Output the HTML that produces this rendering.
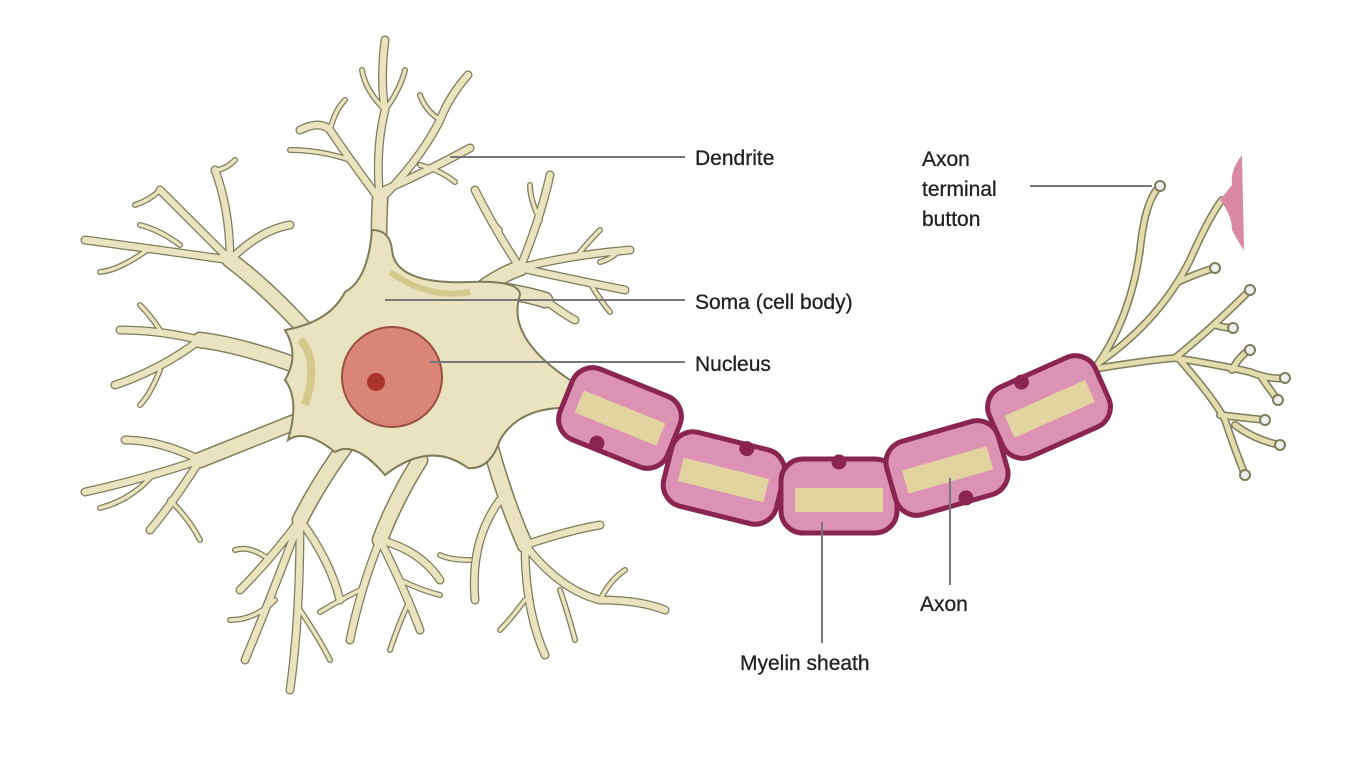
<!DOCTYPE html>
<html><head><meta charset="utf-8"><style>
html,body{margin:0;padding:0;background:#fff;}
svg{display:block;}
text{font-family:"Liberation Sans",Arial,sans-serif;font-size:21px;fill:#222;stroke:#222;stroke-width:0.3px;}
</style></head><body>
<svg width="1360" height="765" viewBox="0 0 1360 765" xmlns="http://www.w3.org/2000/svg">
<defs>
<g id="d1" fill="none" stroke-linecap="round" stroke-linejoin="round">
<path d="M380,290 Q378,240 380,200"/>
<path d="M310,335 Q270,290 230,260"/>
<path d="M295,365 Q240,345 200,340"/>
<path d="M300,420 Q250,440 200,460"/>
<path d="M350,440 Q320,480 300,520"/>
<path d="M420,460 Q395,500 380,540"/>
<path d="M490,445 Q505,500 525,545"/>
<path d="M480,290 Q500,275 520,268"/>
<path d="M500,290 Q530,295 545,300"/>
</g>
<g id="d2" fill="none" stroke-linecap="round" stroke-linejoin="round">
<path d="M380,200 Q375,150 385,110 Q380,80 385,40"/>
<path d="M380,200 Q350,160 330,130 Q320,120 300,130"/>
<path d="M380,200 Q420,160 440,120 Q450,95 468,75"/>
<path d="M385,190 Q430,170 470,148"/>
<path d="M230,260 Q190,220 160,190"/>
<path d="M230,260 Q230,210 215,170"/>
<path d="M230,260 Q260,230 290,225"/>
<path d="M230,260 Q160,250 85,240"/>
<path d="M200,340 Q160,330 120,330"/>
<path d="M200,340 Q160,370 115,385"/>
<path d="M200,460 Q140,480 85,492"/>
<path d="M200,460 Q160,440 125,440"/>
<path d="M200,460 Q175,500 150,530"/>
<path d="M300,520 Q270,560 240,590"/>
<path d="M300,520 Q270,600 245,660"/>
<path d="M300,520 Q300,620 290,690"/>
<path d="M300,520 Q330,560 340,600"/>
<path d="M380,540 Q360,590 350,640"/>
<path d="M380,540 Q405,590 420,630"/>
<path d="M380,540 Q420,550 440,580"/>
<path d="M525,545 Q560,590 600,600 Q640,600 665,610"/>
<path d="M525,545 Q570,530 600,525"/>
<path d="M525,545 Q525,610 545,655"/>
<path d="M500,500 Q470,540 475,600"/>
<path d="M520,268 Q540,220 550,175"/>
<path d="M520,268 Q495,230 475,190"/>
<path d="M520,268 Q570,255 630,250"/>
<path d="M520,268 Q575,280 625,290"/>
<path d="M545,300 Q565,315 575,320"/>
</g>
<g id="d3" fill="none" stroke-linecap="round" stroke-linejoin="round">
<path d="M385,110 Q365,90 362,70"/><path d="M385,110 Q400,90 405,70"/>
<path d="M440,120 Q425,110 420,95"/><path d="M330,130 Q335,110 345,100"/>
<path d="M350,160 Q320,150 290,150"/><path d="M420,165 Q440,170 455,182"/>
<path d="M160,190 Q150,200 135,205"/><path d="M215,170 Q225,170 235,160"/>
<path d="M180,245 Q160,230 140,225"/><path d="M150,248 Q120,270 100,272"/>
<path d="M160,330 Q150,315 140,305"/><path d="M160,370 Q150,395 140,405"/>
<path d="M150,478 Q130,500 100,508"/><path d="M170,500 Q190,520 200,540"/>
<path d="M270,560 Q250,545 235,550"/><path d="M275,600 Q255,620 230,620"/>
<path d="M300,610 Q320,640 330,660"/><path d="M360,590 Q340,600 320,612"/>
<path d="M400,580 Q420,590 440,595"/><path d="M410,600 Q400,620 390,650"/>
<path d="M560,590 Q570,620 575,640"/><path d="M600,600 Q610,580 625,570"/>
<path d="M525,600 Q510,620 500,630"/><path d="M470,560 Q450,560 440,555"/>
<path d="M540,220 Q530,200 530,185"/><path d="M500,230 Q490,220 485,210"/>
<path d="M575,258 Q590,240 600,230"/><path d="M590,283 Q600,300 610,312"/>
<path d="M620,250 Q610,260 600,262"/>
</g>
<g id="ax" fill="none" stroke-linecap="round" stroke-linejoin="round">
<path d="M1095,368 Q1130,320 1140,250 Q1145,200 1160,186"/>
<path d="M1100,362 Q1160,320 1190,260 Q1210,215 1222,200"/>
<path d="M1178,282 Q1200,272 1215,268"/>
<path d="M1100,368 Q1150,360 1175,358 Q1210,330 1250,290"/>
<path d="M1215,325 Q1225,328 1233,328"/>
<path d="M1175,358 Q1220,365 1250,372 Q1270,380 1285,378"/>
<path d="M1232,370 Q1240,355 1250,350"/>
<path d="M1262,378 Q1270,390 1278,400"/>
<path d="M1180,360 Q1215,400 1225,420 Q1235,450 1245,475"/>
<path d="M1220,415 Q1245,418 1265,420"/>
<path d="M1235,425 Q1255,440 1280,445"/>
</g>
</defs>
<use href="#d1" stroke="#7d7d5a" stroke-width="17"/>
<use href="#d2" stroke="#7d7d5a" stroke-width="9"/>
<use href="#d3" stroke="#7d7d5a" stroke-width="6"/>
<use href="#d1" stroke="#e9e3bf" stroke-width="14"/>
<use href="#d2" stroke="#e9e3bf" stroke-width="6.5"/>
<use href="#d3" stroke="#e9e3bf" stroke-width="3.5"/>
<path d="M372,230 Q390,230 392,250 Q395,285 470,282 Q520,280 520,295 Q505,340 578,385 L575,408 Q520,405 500,440 Q490,470 468,468 Q430,440 385,475 Q355,440 335,452 Q305,428 288,440 Q300,400 285,380 Q300,355 285,330 Q330,322 345,292 Q368,280 372,230 Z" fill="#e9e3bf" stroke="#7d7d5a" stroke-width="2"/>
<path d="M300,340 Q320,360 305,405" stroke="#d3c98f" stroke-width="8" fill="none"/>
<path d="M390,272 Q430,300 470,292" stroke="#d3c98f" stroke-width="6" fill="none"/>
<circle cx="392" cy="377" r="50" fill="#d98676" stroke="#9a4f40" stroke-width="2"/>
<circle cx="376" cy="382" r="9" fill="#a8342c"/>
<path d="M570,395 Q700,460 830,495 Q960,480 1100,365" fill="none" stroke="#7d7d5a" stroke-width="12"/>
<path d="M570,395 Q700,460 830,495 Q960,480 1100,365" fill="none" stroke="#e3dcae" stroke-width="9"/>
<use href="#ax" stroke="#7d7d5a" stroke-width="8"/>
<use href="#ax" stroke="#e3dcae" stroke-width="5"/>
<g fill="#eee" stroke="#7d7d5a" stroke-width="2">
<circle cx="1160" cy="186" r="5"/><circle cx="1215" cy="268" r="5"/><circle cx="1250" cy="290" r="5"/>
<circle cx="1233" cy="328" r="5"/><circle cx="1250" cy="350" r="5"/><circle cx="1285" cy="378" r="5"/>
<circle cx="1278" cy="400" r="5"/><circle cx="1265" cy="420" r="5"/><circle cx="1280" cy="445" r="5"/><circle cx="1245" cy="475" r="5"/>
</g>
<path d="M1242,155 Q1230,170 1232,185 L1220,200 Q1232,215 1232,230 Q1240,245 1244,250 Z" fill="#d98aa2"/>
<g stroke="#8a2550" stroke-width="5" fill="#dc93b3">
<g transform="translate(620,418) rotate(22)"><rect x="-58" y="-38" width="116" height="76" rx="22"/><rect x="-44" y="-12" width="88" height="24" fill="#e3d3a0" stroke="none"/><circle cx="-12" cy="32" r="5" fill="#8a2550"/></g>
<g transform="translate(724,478) rotate(14)"><rect x="-58" y="-38" width="116" height="76" rx="22"/><rect x="-44" y="-10" width="88" height="24" fill="#e3d3a0" stroke="none"/><circle cx="15" cy="-34" r="5" fill="#8a2550"/></g>
<g transform="translate(839,496) rotate(0)"><rect x="-58" y="-37" width="116" height="74" rx="22"/><rect x="-44" y="-8" width="88" height="24" fill="#e3d3a0" stroke="none"/><circle cx="0" cy="-34" r="5" fill="#8a2550"/></g>
<g transform="translate(947,468) rotate(-16)"><rect x="-58" y="-38" width="116" height="76" rx="22"/><rect x="-44" y="-10" width="88" height="24" fill="#e3d3a0" stroke="none"/><circle cx="10" cy="34" r="5" fill="#8a2550"/></g>
<g transform="translate(1049,407) rotate(-24)"><rect x="-58" y="-38" width="116" height="76" rx="22"/><rect x="-44" y="-10" width="88" height="24" fill="#e3d3a0" stroke="none"/><circle cx="-15" cy="-34" r="5" fill="#8a2550"/></g>
</g>
<g stroke="#777" stroke-width="2" fill="none">
<line x1="450" y1="157" x2="685" y2="157"/>
<line x1="1030" y1="186" x2="1152" y2="186"/>
<line x1="385" y1="300" x2="685" y2="300"/>
<line x1="430" y1="362" x2="685" y2="362"/>
<line x1="950" y1="478" x2="950" y2="585"/>
<line x1="822" y1="522" x2="822" y2="643"/>
</g>
<text x="695" y="165">Dendrite</text>
<text x="922" y="166">Axon</text>
<text x="922" y="196">terminal</text>
<text x="922" y="226">button</text>
<text x="695" y="309">Soma (cell body)</text>
<text x="695" y="371">Nucleus</text>
<text x="920" y="611">Axon</text>
<text x="740" y="670">Myelin sheath</text>
</svg>
</body></html>
